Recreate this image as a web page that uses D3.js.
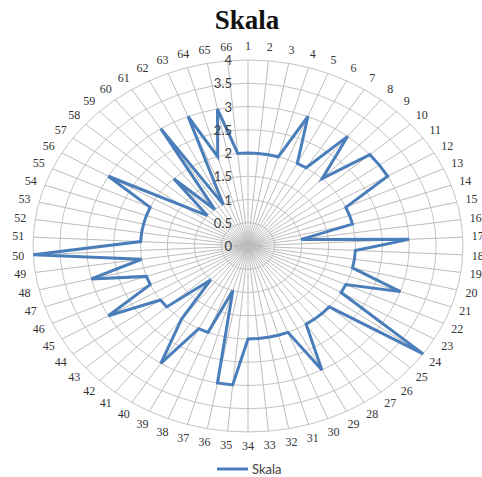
<!DOCTYPE html>
<html>
<head>
<meta charset="utf-8">
<script src="https://cdn.jsdelivr.net/npm/d3@7"></script>
<style>
  html, body { margin: 0; padding: 0; background: #fff; }
  svg { display: block; }
</style>
</head>
<body>
<svg id="chart" width="482" height="477"></svg>
<script>
// Categories 1..66 around the radar
const categories = d3.range(1, 67).map(String);

// Series "Skala" values, one per category
const skalaValues = [
  2, 2, 2, 2, 3, 2, 2, 3, 2, 3,
  3, 3, 2, 2, 2, 1, 3, 2, 2, 2,
  3, 2, 2, 4, 2, 2, 2, 2, 3, 2,
  2, 2, 2, 2, 3, 3, 1, 2, 2, 3,
  2, 1, 2, 2, 3, 2, 2, 3, 2, 4,
  2, 2, 2, 2, 2, 3, 1.5, 1, 2, 1,
  3, 1, 3, 2, 3, 2
];

// Radial axis ticks
const tickValues = [0, 0.5, 1, 1.5, 2, 2.5, 3, 3.5, 4];
const tickLabels = ["0", "0.5", "1", "1.5", "2", "2.5", "3", "3.5", "4"];

const seriesName = "Skala";
const titleText = "Skala";

const svg = d3.select("#chart");
const cx = 248, cy = 246, rx = 215, ry = 186;

const r = d3.scaleLinear().domain([0, 4]).range([0, 1]);
const angle = d3.scalePoint().domain(categories).range([0, 2 * Math.PI * (65 / 66)]);

const px = (cat, v) => cx + rx * r(v) * Math.sin(angle(cat));
const py = (cat, v) => cy - ry * r(v) * Math.cos(angle(cat));

// Title
svg.append("text")
  .attr("x", 247).attr("y", 29)
  .attr("text-anchor", "middle")
  .attr("font-family", "'Liberation Serif', 'Times New Roman', serif")
  .attr("font-weight", "bold")
  .attr("font-size", 27)
  .attr("fill", "#111")
  .text(titleText);

const grid = svg.append("g");

// Concentric rings
grid.selectAll("ellipse")
  .data(tickValues.filter(d => d > 0))
  .join("ellipse")
  .attr("cx", cx).attr("cy", cy)
  .attr("rx", d => rx * r(d))
  .attr("ry", d => ry * r(d))
  .attr("fill", "none")
  .attr("stroke", "#c4c4c4")
  .attr("stroke-width", 1);

// Spokes
grid.selectAll("line.spoke")
  .data(categories)
  .join("line")
  .attr("class", "spoke")
  .attr("x1", cx).attr("y1", cy)
  .attr("x2", d => px(d, 4))
  .attr("y2", d => py(d, 4))
  .attr("stroke", "#bdbdbd")
  .attr("stroke-width", 1);

// Category labels
svg.append("g").selectAll("text")
  .data(categories)
  .join("text")
  .attr("x", d => cx + (rx + 15) * Math.sin(angle(d)))
  .attr("y", d => cy - (ry + 14) * Math.cos(angle(d)))
  .attr("text-anchor", "middle")
  .attr("dominant-baseline", "central")
  .attr("font-family", "'Liberation Serif', 'Times New Roman', serif")
  .attr("font-size", 12)
  .attr("fill", "#333")
  .text(d => d);

// Series polygon
const line = d3.line()
  .x((v, i) => px(categories[i], v))
  .y((v, i) => py(categories[i], v))
  .curve(d3.curveLinearClosed);

svg.append("path")
  .datum(skalaValues)
  .attr("d", line)
  .attr("fill", "none")
  .attr("stroke", "#4a7ebb")
  .attr("stroke-width", 3)
  .attr("stroke-linejoin", "miter");

// Radial tick labels along the first spoke
svg.append("g").selectAll("text")
  .data(tickValues)
  .join("text")
  .attr("x", cx - 16)
  .attr("y", d => cy - ry * r(d))
  .attr("text-anchor", "end")
  .attr("dominant-baseline", "central")
  .attr("font-family", "Lato, 'Open Sans', sans-serif")
  .attr("font-size", 13)
  .attr("fill", "#404040")
  .text((d, i) => tickLabels[i]);

// Legend
const legend = svg.append("g");
legend.append("line")
  .attr("x1", 217).attr("x2", 248)
  .attr("y1", 469).attr("y2", 469)
  .attr("stroke", "#4a7ebb")
  .attr("stroke-width", 3);
legend.append("text")
  .attr("x", 252).attr("y", 469)
  .attr("dominant-baseline", "central")
  .attr("font-family", "Lato, 'Open Sans', sans-serif")
  .attr("font-size", 13)
  .attr("fill", "#404040")
  .text(seriesName);
</script>
</body>
</html>
